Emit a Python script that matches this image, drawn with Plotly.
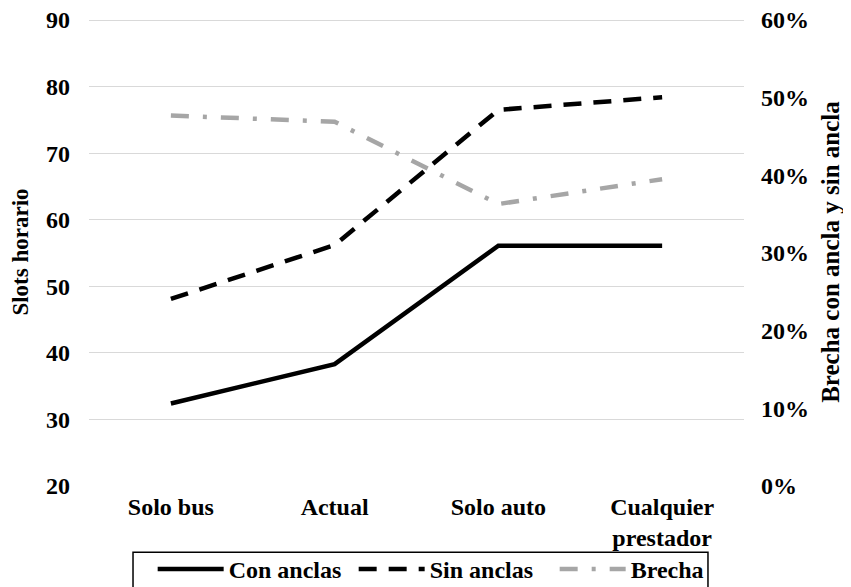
import plotly.graph_objects as go

categories = ["Solo bus", "Actual", "Solo auto", "Cualquier<br>prestador"]
con_anclas = [32.4, 38.3, 56.1, 56.1]
sin_anclas = [48.1, 56.2, 76.5, 78.4]
brecha = [0.477, 0.469, 0.363, 0.395]

FONT = "Liberation Serif"
TICKF = dict(family=FONT, size=24, color="black", weight="bold")

Y1 = [20, 90.3]
Y2 = [0, 0.6 * (Y1[1] - 20) / 70]

fig = go.Figure()
fig.add_trace(go.Scatter(x=categories, y=con_anclas, name="Con anclas", mode="lines",
                         line=dict(color="black", width=4.5, dash="solid")))
fig.add_trace(go.Scatter(x=categories, y=sin_anclas, name="Sin anclas", mode="lines",
                         line=dict(color="black", width=4.5, dash="18px,12px")))
fig.add_trace(go.Scatter(x=categories, y=brecha, name="Brecha", mode="lines", yaxis="y2",
                         line=dict(color="#a6a6a6", width=4.5, dash="18px,14px,4px,14px")))

# legend frame
fig.add_shape(type="rect", xref="paper", yref="paper", x0=0.0672, x1=0.945,
              y0=-0.27, y1=-0.1416, line=dict(color="black", width=1.5),
              fillcolor="rgba(0,0,0,0)", layer="above")

fig.update_layout(
    width=851, height=587,
    margin=dict(l=81, r=115, t=10, b=109),
    paper_bgcolor="white", plot_bgcolor="white",
    font=dict(family=FONT, size=22, color="black"),
    showlegend=True,
    legend=dict(orientation="h", xref="container", x=0.170, xanchor="left",
                yref="container", y=0.0818, yanchor="top",
                borderwidth=0, bgcolor="rgba(0,0,0,0)", itemwidth=66,
                entrywidth=120, entrywidthmode="pixels",
                font=dict(family=FONT, size=24, color="black", weight="bold"),
                tracegroupgap=0),
    xaxis=dict(type="category", range=[-0.5, 3.5], showgrid=False, zeroline=False,
               showline=False, ticks="", automargin=False, tickfont=TICKF,
               ticklabelstandoff=4, ticklabeloverflow="allow"),
    yaxis=dict(range=Y1, dtick=10, tick0=0, showgrid=True, gridcolor="#d9d9d9", gridwidth=1.3,
               zeroline=False, showline=False, ticks="", ticklabelstandoff=18,
               automargin=False, tickfont=TICKF, ticklabeloverflow="allow",
               title=dict(text="Slots horario", standoff=13,
                          font=dict(family=FONT, size=23, color="black", weight="bold"))),
    yaxis2=dict(range=Y2, dtick=0.1, tick0=0, tickformat=".0%", overlaying="y", side="right",
                showgrid=False, zeroline=False, showline=False, ticks="", ticklabelstandoff=16,
                automargin=False, tickfont=TICKF, ticklabeloverflow="allow",
                title=dict(text="\u00a0\u00a0Brecha con ancla y sin ancla", standoff=13,
                           font=dict(family=FONT, size=25, color="black", weight="bold"))),
)

fig.write_html("out.html")
